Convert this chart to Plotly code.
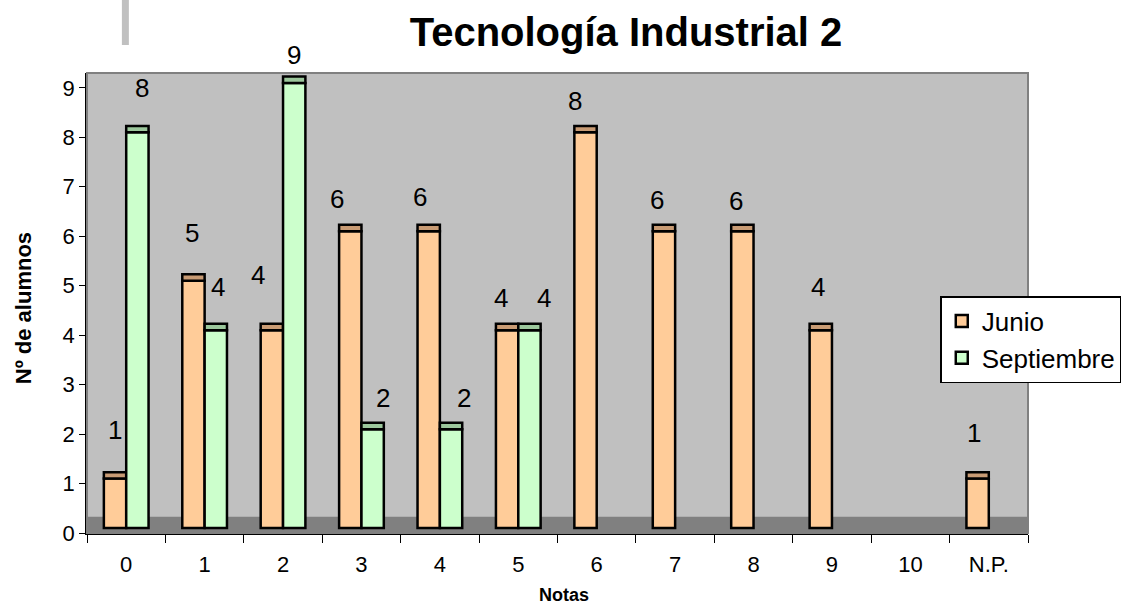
import plotly.graph_objects as go

# ---------------------------------------
# Data
# ---------------------------------------
notas = ["0", "1", "2", "3", "4", "5", "6", "7", "8", "9", "10", "N.P."]
junio = [1, 5, 4, 6, 6, 4, 8, 6, 6, 4, 0, 1]
septiembre = [8, 4, 9, 2, 2, 4, 0, 0, 0, 0, 0, 0]

# ---------------------------------------
# Style
# ---------------------------------------
FONT = "Arial, Liberation Sans, sans-serif"
LIFT = 0.1      # pseudo-3D lift of the bars above the axis
CAP = 0.13      # height of the darker top face
BAR_W = 0.285
CAT_PX = 944 / 12

# label nudges in px (dx, dy above the bar value), Excel placement quirks
junio_nudge = [(0, 54), (-1, 53), (-14, 60), (-13, 37), (-9, 39), (-6, 37),
               (-11, 36), (-7, 36), (-6, 35), (-3, 48), (0, 40), (-4, 51)]
sept_nudge = [(5, 49), (2, 48), (0, 33), (10, 36), (13, 36), (14, 37),
              (0, 40), (0, 40), (0, 40), (0, 40), (0, 40), (0, 40)]

series = [
    ("Junio", junio, "#FFCC99", "#C89B74", -BAR_W, junio_nudge),
    ("Septiembre", septiembre, "#CCFFCC", "#9CC79C", 0.0, sept_nudge),
]

fig = go.Figure()

for name, vals, fill, cap, off, nudge in series:
    xs = [n for n, v in zip(notas, vals) if v > 0]
    ys = [v for v in vals if v > 0]
    fig.add_trace(go.Bar(
        x=xs, y=ys, base=[LIFT] * len(ys),
        name=name, legendgroup=name, offset=off, width=BAR_W,
        marker=dict(color=fill, line=dict(color="black", width=2.5)),
        hoverinfo="skip",
    ))
    fig.add_trace(go.Bar(
        x=xs, y=[CAP] * len(ys), base=[v + LIFT for v in ys],
        showlegend=False, legendgroup=name, offset=off, width=BAR_W,
        marker=dict(color=cap, line=dict(color="black", width=2.5)),
        hoverinfo="skip",
    ))
    # value labels
    for n, v, (dx, dy) in zip(notas, vals, nudge):
        if v <= 0:
            continue
        fig.add_annotation(
            x=n, y=v, text=str(v), showarrow=False, yanchor="middle",
            xshift=(off + BAR_W / 2) * CAT_PX + dx, yshift=dy,
            font=dict(size=26, color="black", family=FONT),
        )

# floor of the 3D chart
fig.add_shape(type="rect", xref="paper", yref="y", x0=0, x1=1, y0=0, y1=0.33,
              fillcolor="#808080", line=dict(width=0), layer="below")
# plot area border (top/right)
fig.add_shape(type="rect", xref="paper", yref="paper", x0=0, x1=1, y0=0, y1=1,
              line=dict(color="#808080", width=2), fillcolor="rgba(0,0,0,0)")
# gray decorative stroke at top left
fig.add_shape(type="rect", xref="paper", yref="paper",
              x0=(122 - 87) / 944, x1=(129 - 87) / 944,
              y0=(533 - 45) / 460, y1=(533 + 2) / 460,
              fillcolor="#C0C0C0", line=dict(width=0))

# axis titles
fig.add_annotation(text="<b>Notas</b>", xref="paper", yref="paper",
                   x=(566 - 87) / 944, y=(533 - 595) / 460, showarrow=False,
                   xanchor="center", yanchor="middle", font=dict(size=18))
fig.add_annotation(text="<b>Nº de alumnos</b>", xref="paper", yref="paper",
                   x=(23 - 87) / 944, y=(533 - 308) / 460, showarrow=False,
                   textangle=-90, xanchor="center", yanchor="middle",
                   font=dict(size=22))

fig.update_layout(
    barmode="overlay",
    width=1133, height=604,
    margin=dict(l=87, r=102, t=73, b=71),
    paper_bgcolor="white",
    plot_bgcolor="#C0C0C0",
    font=dict(family=FONT, size=20, color="black"),
    title=dict(text="<b>Tecnología Industrial 2</b>", x=626 / 1133, xanchor="center",
               xref="container", y=1 - 32 / 604, yanchor="middle",
               font=dict(size=40, color="black", family=FONT)),
    legend=dict(x=(943 - 87) / 944, y=(533 - 296) / 460, xanchor="left", yanchor="top",
                bgcolor="white", bordercolor="black", borderwidth=1.5,
                font=dict(size=26, family=FONT), traceorder="grouped",
                itemwidth=30, tracegroupgap=0),
    xaxis=dict(
        type="category", categoryorder="array", categoryarray=notas,
        range=[-0.5, 11.5], tickson="boundaries", ticks="outside", ticklen=8,
        tickcolor="black", showline=True, linecolor="black", linewidth=1.5,
        showgrid=False, tickfont=dict(size=22), ticklabelstandoff=11,
        automargin=False,
    ),
    yaxis=dict(
        range=[0, 9.3], dtick=1, ticks="outside", ticklen=6, tickcolor="black",
        showline=True, linecolor="black", linewidth=1.5, showgrid=False,
        zeroline=False, tickfont=dict(size=22), automargin=False,
    ),
)

# drop the browser's default 8px page margin so the figure sits at (0, 0)
fig.write_html("out.html", config={"displayModeBar": False},
               post_script="document.body.style.margin='0';")
